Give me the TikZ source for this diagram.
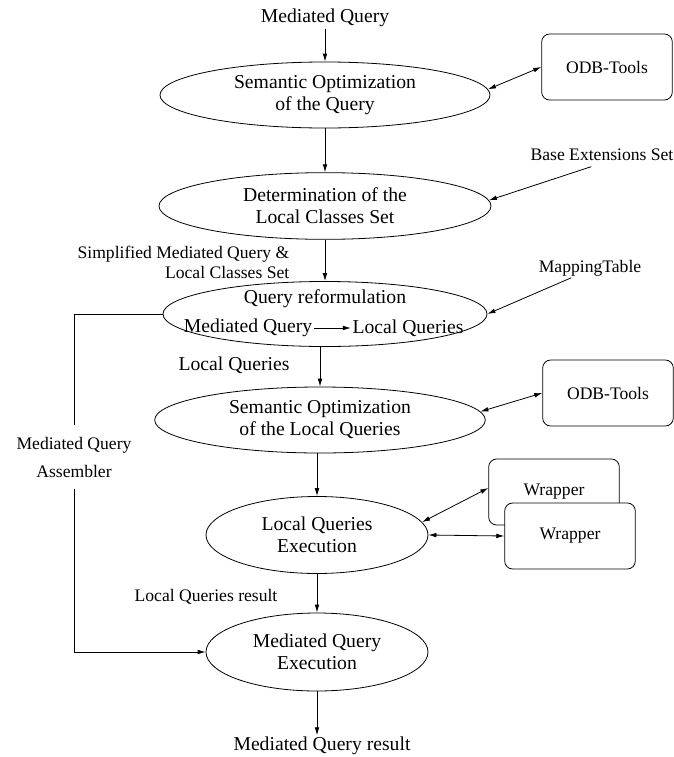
\documentclass[tikz,border=0pt]{standalone}
\usepackage{fontspec}
\setmainfont{Liberation Serif}
\usepackage{tikz}
\usetikzlibrary{arrows.meta,shapes.geometric,positioning,calc}
\newcommand{\bigtxt}{\fontsize{14.75}{16.5}\selectfont}
\newcommand{\smalltxt}{\fontsize{13.2}{15}\selectfont}
\tikzset{
  stage/.style={draw,ellipse,inner sep=0pt,align=center,font=\bigtxt},
  tool/.style={draw,rounded corners=6pt,minimum width=98pt,minimum height=49.5pt,font=\smalltxt},
  big/.style={inner sep=1pt,font=\bigtxt,align=center},
  small/.style={inner sep=1pt,font=\smalltxt,align=center},
  flow/.style={-{Latex[length=6pt,width=3.5pt]}},
  both/.style={{Latex[length=6pt,width=3.5pt]}-{Latex[length=6pt,width=3.5pt]}}
}
\begin{document}
\begin{tikzpicture}[x=0.75pt,y=-0.75pt,line width=0.6pt]
        \useasboundingbox (0,0) rectangle (674,757);
        \node[big] (mq) at (325,18) {Mediated Query};
        \node[stage,minimum width=247.5pt,minimum height=49.5pt] (e1) at (325,95) {Semantic Optimization\\of the Query};
        \node[tool] (odb1) at (607,67) {ODB-Tools};
        \node[stage,minimum width=249pt,minimum height=50pt] (e2) at (325,206) {Determination of the\\Local Classes Set};
        \node[small] (bes) at (602,155) {Base Extensions Set};
        \node[small,align=right,anchor=east] (sml) at (291,262) {Simplified Mediated Query \&\\Local Classes Set};
        \node[small] (mt) at (590,268) {MappingTable};
        \node[stage,minimum width=243pt,minimum height=48.75pt] (e3) at (325,314) {};
        \node[big] (qr) at (325,299) {Query reformulation};
        \node[big] (mqin) at (248,328) {Mediated Query};
        \node[big] (lqin) at (408,328) {Local Queries};
        \node[big] (lq) at (234,365) {Local Queries};
        \node[stage,minimum width=248pt,minimum height=49.5pt] (e4) at (320,420) {Semantic Optimization\\of the Local Queries};
        \node[tool] (odb2) at (608,393) {ODB-Tools};
        \node[small,inner sep=0pt,minimum height=47pt] (asm) at (74,457) {Mediated Query\\[6pt]Assembler};
        \node[stage,minimum width=166.5pt,minimum height=57.75pt] (e5) at (317,535) {Local Queries\\Execution};
        \node[tool] (wb) at (554,492) {Wrapper};
        \node[tool,fill=white] (wf) at (570,536) {Wrapper};
        \node[small] (lqr) at (206,597) {Local Queries result};
        \node[stage,minimum width=166.5pt,minimum height=58.5pt] (e6) at (317,652) {Mediated Query\\Execution};
        \node[big] (mqr) at (322,746) {Mediated Query result};
        \draw[flow] (mq) -- (e1);
        \draw[flow] (e1) -- (e2);
        \draw[flow] (e2) -- (e3);
        \draw[flow] (mqin) -- (lqin);
        \draw[flow] (e3.south -| e4.north) -- (e4.north);
        \draw[flow] (e4.south -| e5.north) -- (e5.north);
        \draw[flow] (e5) -- (e6);
        \draw[flow] (e6) -- (e6.south |- mqr.north);
        \draw[both] (e1.2.5) -- (odb1.west);
        \draw[flow] ([xshift=-8pt,yshift=-3pt]bes.south) -- (e2.2);
        \draw[flow] ([xshift=-14pt]mt.south) -- (e3.east);
        \draw[both] (e4.3) -- (odb2.west);
        \draw[both] (e5.7) -- ([yshift=3pt]wb.west);
        \draw[both] (e5.east) -- (wf.west);
        \draw (e3.west) -| (asm.north);
        \draw[flow] (asm.south) |- (e6.west);
      \end{tikzpicture}
\end{document}
